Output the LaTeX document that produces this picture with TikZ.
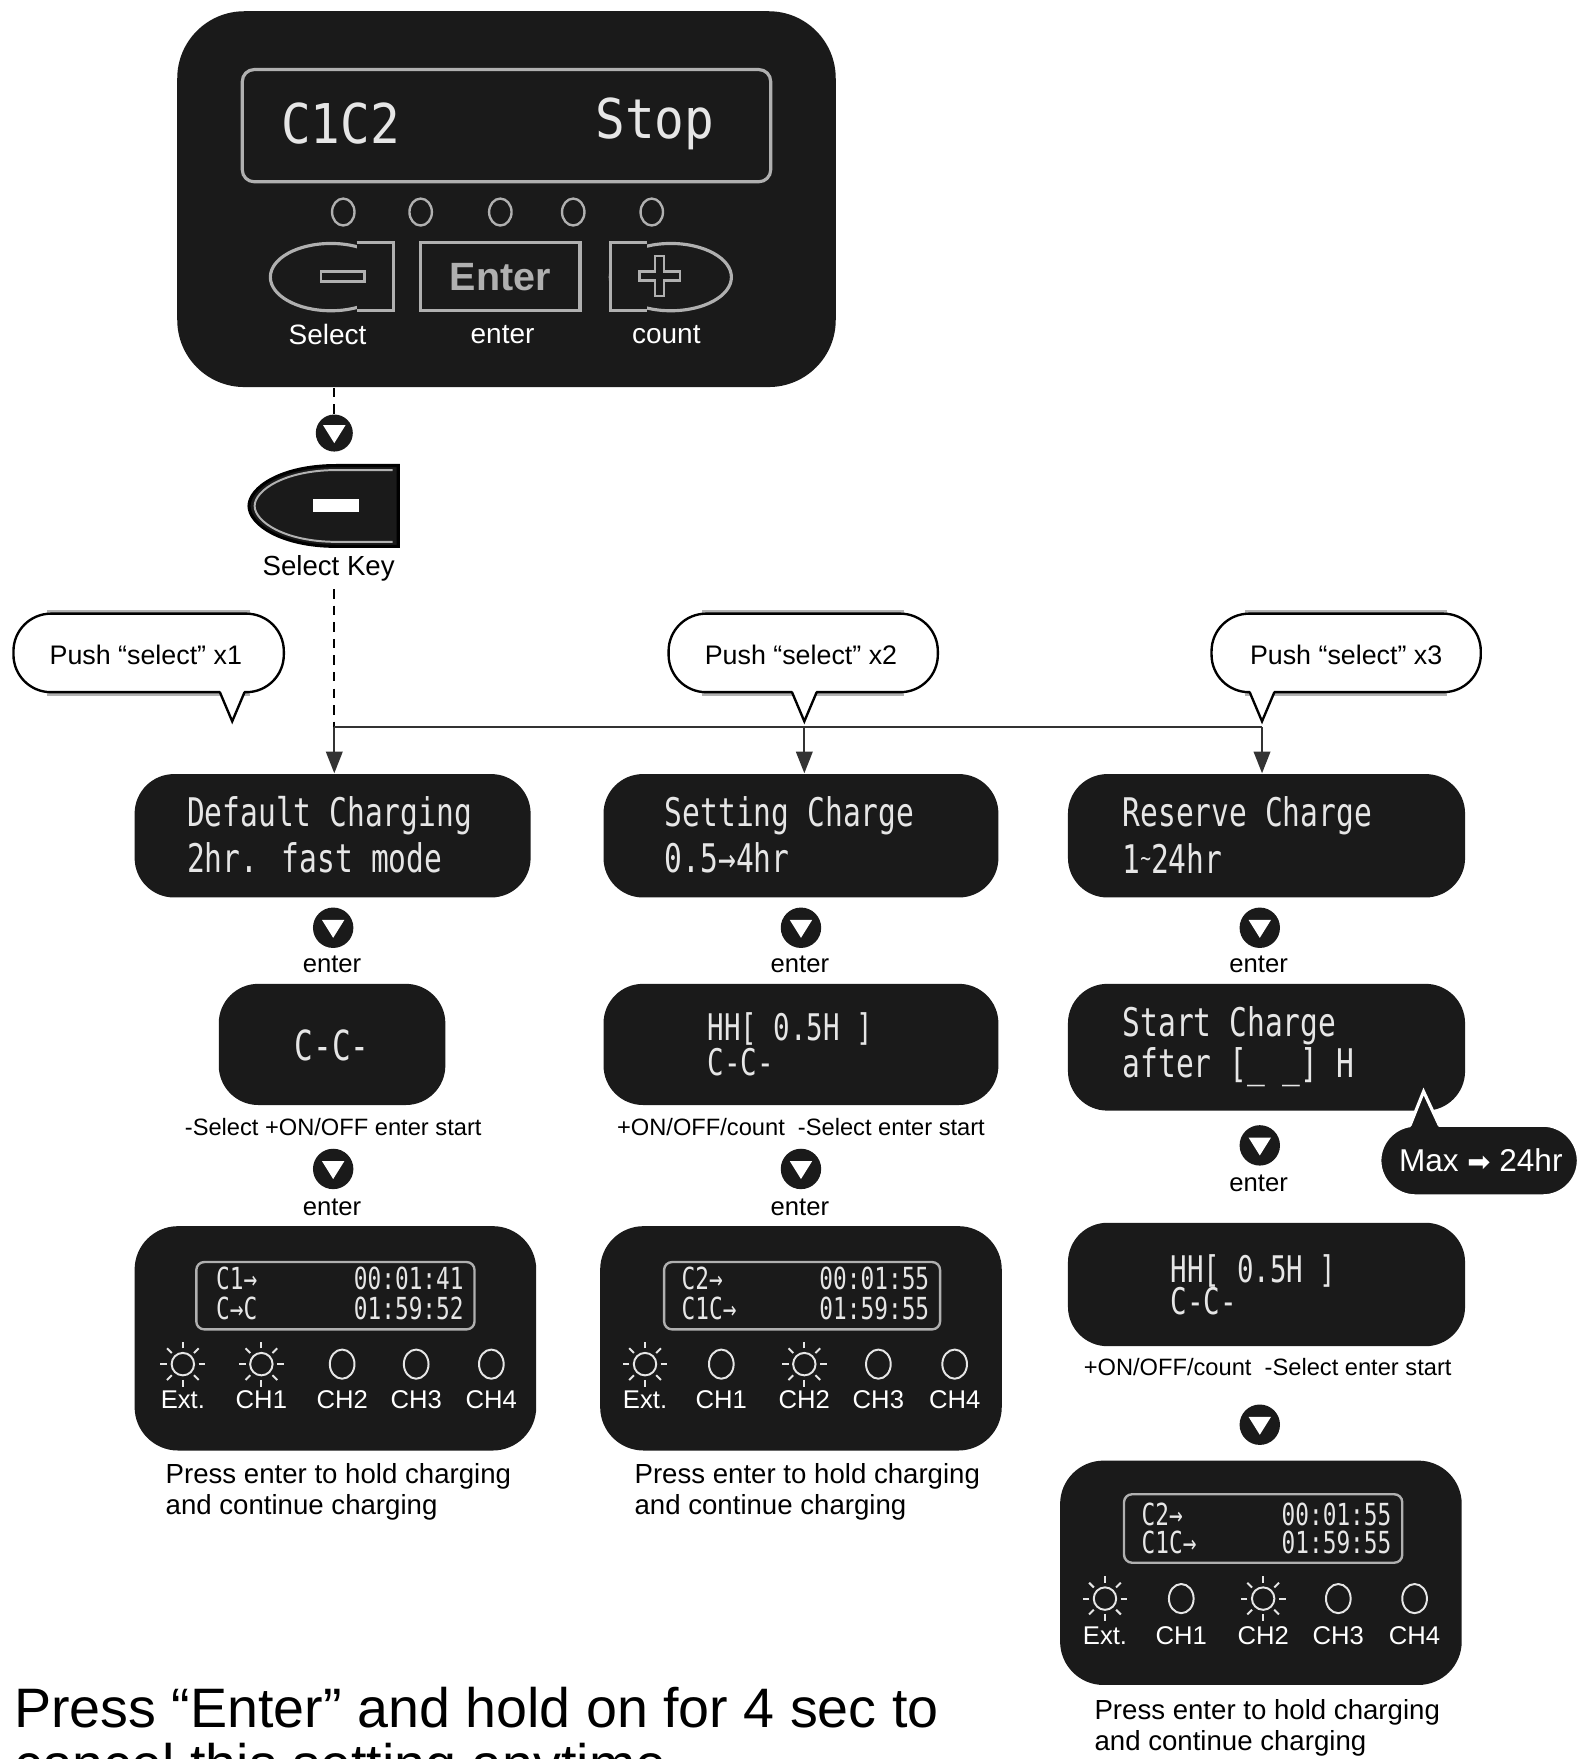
\documentclass[tikz,border=0pt]{standalone}
\usepackage{fontspec}
\setmainfont{Liberation Sans}
\newfontfamily\lcdA[FakeStretch=0.9]{DejaVu Sans Mono}
\newfontfamily\lcdB[FakeStretch=0.75]{DejaVu Sans Mono}
\newfontfamily\symfont{DejaVu Sans}
\usetikzlibrary{fit,arrows.meta}
\newcommand\fsz[1]{\fontsize{#1}{#1}\selectfont}
\definecolor{panel}{HTML}{1A1A1A}
\definecolor{lcdw}{HTML}{E6E6E6}
\definecolor{btn}{HTML}{B0B0B0}
\newcommand\mybubble[3]{% x1, x2, tail x
  \draw[gray!60, line width=1.2pt] (#1+30,546) -- (#2-30,546);
  \draw[gray!60, line width=1.2pt] (#1+30,618.5) -- (#2-30,618.5);
  \draw[fill=white, line width=0.6pt, rounded corners=9.5pt] (#1,547) rectangle (#2,617);
  \fill[white] (#3-11,615) -- (#3,641) -- (#3+11,615) -- cycle;
  \draw[line width=0.6pt, line join=miter] (#3-11,617) -- (#3,643) -- (#3+11,617);
}
\newcommand\sunlight[2]{%
  \draw[lcdw, line width=0.5pt] (#1,#2) circle [radius=10];
  \foreach \a in {0,45,...,315} \draw[lcdw, line width=0.5pt] (#1,#2) ++(\a:14) -- ++(\a:6);}
\newcommand\offlight[2]{\draw[lcdw, line width=0.5pt] (#1,#2) ellipse [x radius=11, y radius=13];}
\begin{document}
\begin{tikzpicture}[x=0.01cm,y=-0.01cm,
  blk/.style={fill=panel, draw=none, inner sep=0pt},
  ltxt/.style={text=lcdw, inner sep=0pt, anchor=west},
  downarr/.style={circle, fill=panel, minimum size=0.36cm, inner sep=0pt,
    path picture={\fill[white] ([shift={(-10,-7)}]path picture bounding box.center) -- ++(20,0) -- ++(-10,16) -- cycle;}},
  lbl/.style={inner sep=0pt, font=\fsz{6.5pt}},
  captxt/.style={inner sep=0pt, font=\fsz{6pt}},
  dsh/.style={line width=0.6pt, dash pattern=on 2.4pt off 1.8pt},
  conn/.style={line width=0.5pt, draw=black!80},
  arr/.style={conn, -{Triangle[length=5.5pt,width=4.2pt]}},
  btnline/.style={draw=btn, line width=0.8pt}
]
\useasboundingbox (0,0) rectangle (1408,1568);

% ---------------- main device ----------------
\node[blk, fit={(158,10) (745,345)}, rounded corners=17pt] (dev) {};
\draw[btnline, rounded corners=3pt] (216,62) rectangle (687,162);
\node[ltxt, font=\lcdA\fsz{13.9pt}] (c1c2) at (250,110) {C1C2};
\node[ltxt, font=\lcdA\fsz{13.9pt}] (stop) at (530,110) {Stop};
\foreach \x in {306,375,446,511,581}
  \draw[btnline, line width=0.6pt] (\x,189) ellipse [x radius=10, y radius=12];
% minus button
\draw[btnline] (295,247) ellipse [x radius=54, y radius=30];
\fill[panel] (318,216) rectangle (351,277);
\draw[btnline] (318,216) -- (351,216) -- (351,277) -- (318,277);
\draw[btnline, line width=0.6pt] (286,242) rectangle (325,251);
% enter button
\draw[btnline] (375,216) rectangle (517,277);
\node[inner sep=0pt, text=btn, font=\bfseries\fsz{10pt}] (entk) at (446,247) {Enter};
% plus button
\draw[btnline] (598,247) ellipse [x radius=54, y radius=30];
\fill[panel] (544,216) rectangle (577,277);
\draw[btnline] (577,216) -- (544,216) -- (544,277) -- (577,277);
\draw[btnline, line width=0.6pt] (584,228) -- (592,228) -- (592,242) -- (606,242) -- (606,250) -- (592,250) -- (592,264) -- (584,264) -- (584,250) -- (570,250) -- (570,242) -- (584,242) -- cycle;
\node[inner sep=0pt, text=white, font=\fsz{7.1pt}] (lsel) at (292,298) {Select};
\node[inner sep=0pt, text=white, font=\fsz{7.1pt}] (lent) at (448,298) {enter};
\node[inner sep=0pt, text=white, font=\fsz{7.1pt}] (lcnt) at (594,298) {count};

% ---------------- select key ----------------
\node[downarr, minimum size=0.33cm] (a0) at (298,386) {};
\draw[dsh] (a0 |- dev.south) -- (a0.north);
\filldraw[fill=panel, draw=black, line width=0.8pt] (355,415) -- (300,415) .. controls (250,415) and (222,435) .. (222,451) .. controls (222,467) and (250,487) .. (300,487) -- (355,487) -- cycle;
\draw[gray!60, line width=0.5pt] (350,419) -- (300,419) .. controls (254,419) and (227,437) .. (227,451) .. controls (227,465) and (254,483) .. (300,483) -- (350,483);
\fill[white] (279,445) rectangle (320,456);
\node[inner sep=0pt, font=\fsz{7pt}] (sk) at (293,507) {Select Key};

% ---------------- distribution line ----------------
\coordinate (j1) at (298,648);
\coordinate (j2) at (717,648);
\coordinate (j3) at (1125,648);
\draw[dsh] (a0 |- sk.south) ++(0,6) -- (j1);
\draw[conn] (j1) -- (j3);

% bubbles
\mybubble{12}{253}{207}
\mybubble{596}{836}{717}
\mybubble{1080}{1320}{1125}
\node[inner sep=0pt, font=\fsz{6.8pt}] (p1) at (130,584) {Push “select” x1};
\node[inner sep=0pt, font=\fsz{6.8pt}] (p2) at (714,584) {Push “select” x2};
\node[inner sep=0pt, font=\fsz{6.8pt}] (p3) at (1200,584) {Push “select” x3};

% ---------------- row 1 ----------------
\node[blk, fit={(120,690) (473,800)}, rounded corners=10pt] (r1a) {};
\node[blk, fit={(538,690) (890,800)}, rounded corners=10pt] (r1b) {};
\node[blk, fit={(952,690) (1306,800)}, rounded corners=10pt] (r1c) {};
\draw[arr] (j1) -- (j1 |- r1a.north);
\draw[arr] (j2) -- (j2 |- r1b.north);
\draw[arr] (j3) -- (j3 |- r1c.north);
\node[ltxt, font=\lcdB\fsz{10pt}] at (166,727) {Default Charging};
\node[ltxt, font=\lcdB\fsz{10pt}] at (166,765) {2hr. fast mode};
\node[ltxt, font=\lcdB\fsz{10pt}] at (592,727) {Setting Charge};
\node[ltxt, font=\lcdB\fsz{10pt}] at (592,765) {0.5→4hr};
\node[ltxt, font=\lcdB\fsz{10pt}] at (1000,727) {Reserve Charge};
\node[ltxt, font=\lcdB\fsz{10pt}] at (1000,765) {1\raisebox{0.3ex}{\fsz{6pt}\textasciitilde}24hr};

\node[downarr] (d1a) at (297,827) {};
\node[downarr] (d1b) at (714,827) {};
\node[downarr] (d1c) at (1123,827) {};
\node[lbl] (e1a) at (296,860) {enter};
\node[lbl] (e1b) at (713,860) {enter};
\node[lbl] (e1c) at (1122,860) {enter};

% ---------------- row 2 ----------------
\node[blk, fit={(195,877) (397,985)}, rounded corners=10pt] (r2a) {};
\node[blk, fit={(538,877) (890,985)}, rounded corners=10pt] (r2b) {};
\node[blk, fit={(952,877) (1306,990)}, rounded corners=10pt] (r2c) {};
\node[text=lcdw, inner sep=0pt, font=\lcdB\fsz{10.5pt}] at (296,932) {C-C-};
\node[ltxt, font=\lcdB\fsz{9.3pt}] at (630,917) {HH[ 0.5H ]};
\node[ltxt, font=\lcdB\fsz{9.3pt}] at (630,947) {C-C-};
\node[ltxt, font=\lcdB\fsz{10pt}] at (1000,914) {Start Charge};
\node[ltxt, font=\lcdB\fsz{10pt}] at (1000,951) {after [\_ \_] H};

\node[captxt] (c2a) at (297,1005) {-Select +ON/OFF enter start};
\node[captxt] (c2b) at (714,1005) {+ON/OFF/count\ \ -Select enter start};

% Max bubble
\filldraw[fill=panel, draw=white, line width=0.8pt, rounded corners=9pt] (1230,1003) rectangle (1407,1066);
\fill[panel] (1257,1006) -- (1269,973) -- (1283,1006) -- cycle;
\draw[white, line width=0.8pt, line join=miter] (1257,1003) -- (1269,973) -- (1283,1003);
\node[inner sep=0pt, text=white, font=\fsz{8pt}] (mx) at (1320,1034) {Max {\symfont\fsz{7pt}➡} 24hr};

\node[downarr] (d2a) at (297,1042) {};
\node[downarr] (d2b) at (714,1042) {};
\node[downarr] (d2c) at (1123,1021) {};
\node[lbl] (e2a) at (296,1076) {enter};
\node[lbl] (e2b) at (713,1076) {enter};
\node[lbl] (e2c) at (1122,1055) {enter};

% ---------------- row 3 ----------------
\node[blk, fit={(120,1093) (478,1293)}, rounded corners=11pt] (r3a) {};
\node[blk, fit={(535,1093) (893,1293)}, rounded corners=11pt] (r3b) {};
\node[blk, fit={(952,1090) (1306,1200)}, rounded corners=10pt] (r3c) {};
\node[blk, fit={(945,1302) (1303,1502)}, rounded corners=11pt] (r4c) {};

% lcd windows
\draw[btnline, line width=0.6pt, rounded corners=2pt] (175,1125) rectangle (423,1185);
\draw[btnline, line width=0.6pt, rounded corners=2pt] (592,1125) rectangle (838,1185);
\draw[btnline, line width=0.6pt, rounded corners=2pt] (1002,1332) rectangle (1250,1393);
\node[ltxt, font=\lcdB\fsz{7.7pt}] at (192,1140) {C1→};
\node[ltxt, font=\lcdB\fsz{7.7pt}] at (192,1166) {C→C};
\node[text=lcdw, inner sep=0pt, anchor=east, font=\lcdB\fsz{7.7pt}] at (414,1140) {00:01:41};
\node[text=lcdw, inner sep=0pt, anchor=east, font=\lcdB\fsz{7.7pt}] at (414,1166) {01:59:52};
\node[ltxt, font=\lcdB\fsz{7.7pt}] at (607,1140) {C2→};
\node[ltxt, font=\lcdB\fsz{7.7pt}] at (607,1166) {C1C→};
\node[text=lcdw, inner sep=0pt, anchor=east, font=\lcdB\fsz{7.7pt}] at (829,1140) {00:01:55};
\node[text=lcdw, inner sep=0pt, anchor=east, font=\lcdB\fsz{7.7pt}] at (829,1166) {01:59:55};
\node[ltxt, font=\lcdB\fsz{7.7pt}] at (1017,1350) {C2→};
\node[ltxt, font=\lcdB\fsz{7.7pt}] at (1017,1375) {C1C→};
\node[text=lcdw, inner sep=0pt, anchor=east, font=\lcdB\fsz{7.7pt}] at (1241,1350) {00:01:55};
\node[text=lcdw, inner sep=0pt, anchor=east, font=\lcdB\fsz{7.7pt}] at (1241,1375) {01:59:55};

% lights
\foreach \x/\t/\s in {163/Ext./1,233/CH1/1,305/CH2/0,371/CH3/0,438/CH4/0}{
  \ifnum\s=1 \sunlight{\x}{1216}\else\offlight{\x}{1216}\fi
  \node[inner sep=0pt, text=white, font=\fsz{6.5pt}] (la\x) at (\x,1248) {\t};}
\foreach \x/\t/\s in {575/Ext./1,643/CH1/0,717/CH2/1,783/CH3/0,851/CH4/0}{
  \ifnum\s=1 \sunlight{\x}{1216}\else\offlight{\x}{1216}\fi
  \node[inner sep=0pt, text=white, font=\fsz{6.5pt}] (lb\x) at (\x,1248) {\t};}
\foreach \x/\t/\s in {985/Ext./1,1053/CH1/0,1126/CH2/1,1193/CH3/0,1261/CH4/0}{
  \ifnum\s=1 \sunlight{\x}{1425}\else\offlight{\x}{1425}\fi
  \node[inner sep=0pt, text=white, font=\fsz{6.5pt}] (lc\x) at (\x,1458) {\t};}

\node[ltxt, font=\lcdB\fsz{9.3pt}] at (1043,1133) {HH[ 0.5H ]};
\node[ltxt, font=\lcdB\fsz{9.3pt}] at (1043,1160) {C-C-};
\node[captxt] (c3c) at (1130,1219) {+ON/OFF/count\ \ -Select enter start};
\node[downarr] (d3c) at (1123,1270) {};

% captions
\node[inner sep=0pt, anchor=west, align=left, font=\fsz{7pt}] (pa) at (147,1330) {Press enter to hold charging\\[0.8pt]and continue charging};
\node[inner sep=0pt, anchor=west, align=left, font=\fsz{7pt}] (pb) at (565,1330) {Press enter to hold charging\\[0.8pt]and continue charging};
\node[inner sep=0pt, anchor=west, align=left, font=\fsz{7pt}] (pc) at (975,1540) {Press enter to hold charging\\[0.8pt]and continue charging};

% bottom text (second line cut off by the picture edge, as in the original)
\node[inner sep=0pt, anchor=base west, font=\fsz{14.1pt}] (bt1) at (12,1540) {Press “Enter” and hold on for 4 sec to};
\node[inner sep=0pt, anchor=base west, font=\fsz{14.1pt}] (bt2) at (12,1590) {cancel this setting anytime};
\end{tikzpicture}
\end{document}
